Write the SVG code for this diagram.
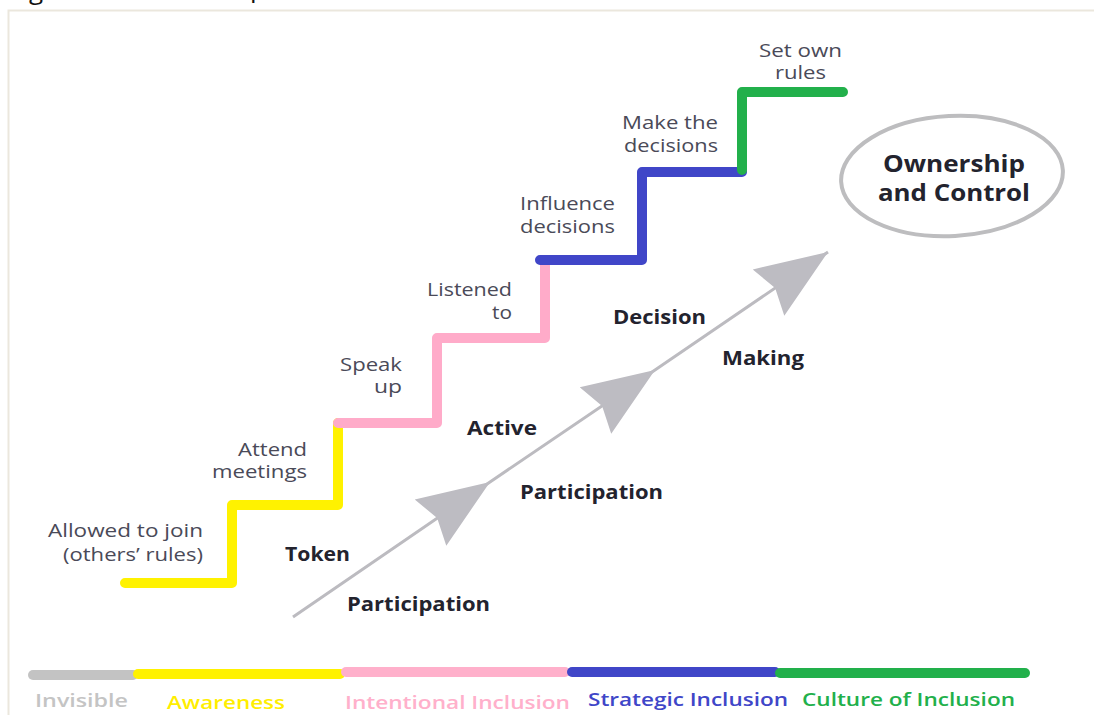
<svg xmlns="http://www.w3.org/2000/svg" width="1094" height="715" viewBox="0 0 1094 715">
<style>
.step{fill:none;stroke-width:10;stroke-linecap:round;stroke-linejoin:round}
.lbl{font-family:"Open Sans","DejaVu Sans",sans-serif;font-size:18px;fill:#4a4a58}
.bold{font-family:"Open Sans","DejaVu Sans",sans-serif;font-weight:700;font-size:20px;fill:#23232e}
.leg{font-family:"Open Sans","DejaVu Sans",sans-serif;font-weight:600;font-size:18px}
.bar{stroke-width:10;stroke-linecap:round}
</style>
<defs>
<marker id="ah" markerUnits="userSpaceOnUse" viewBox="-72 -30 74 60" markerWidth="74" markerHeight="60" refX="0" refY="0" orient="auto">
<path d="M0,0 L-72,-28 L-64,0 L-72,28 Z" fill="#bdbcc2"/>
</marker>
</defs>
<rect width="1094" height="715" fill="#ffffff"/>
<g id="frame">
<path d="M8.5,715 V10.5 H1094" fill="none" stroke="#ebe7dd" stroke-width="2"/>
<text x="29" y="-1" font-family="Open Sans, sans-serif" font-size="26" fill="#111">g</text>
<text x="250" y="-3" font-family="Open Sans, sans-serif" font-size="26" fill="#111">p</text>
</g>
<g id="connectors">
<path class="step" stroke="#fff200" d="M125,583 H232 V505 H338 V423"/>
<path class="step" stroke="#ffabc9" d="M338,423 H437 V338 H545 V262"/>
<path class="step" stroke="#4046c8" d="M540,260 H642 V172 H742"/>
<path class="step" stroke="#22b04b" d="M742,170 V92 H843"/>
<polyline points="293,617 490,482 655,370 828,252" fill="none" stroke="#bcbbc0" stroke-width="3" marker-mid="url(#ah)" marker-end="url(#ah)"/>
</g>
<g id="step-labels">
<text class="lbl"><tspan x="48" y="537" textLength="155" lengthAdjust="spacingAndGlyphs">Allowed to join</tspan><tspan x="63" y="561" textLength="140" lengthAdjust="spacingAndGlyphs">(others’ rules)</tspan></text>
<text class="lbl"><tspan x="238" y="456" textLength="69" lengthAdjust="spacingAndGlyphs">Attend</tspan><tspan x="212" y="478" textLength="95" lengthAdjust="spacingAndGlyphs">meetings</tspan></text>
<text class="lbl"><tspan x="340" y="371" textLength="62" lengthAdjust="spacingAndGlyphs">Speak</tspan><tspan x="374" y="393" textLength="28" lengthAdjust="spacingAndGlyphs">up</tspan></text>
<text class="lbl"><tspan x="427" y="296" textLength="85" lengthAdjust="spacingAndGlyphs">Listened</tspan><tspan x="492" y="319" textLength="20" lengthAdjust="spacingAndGlyphs">to</tspan></text>
<text class="lbl"><tspan x="520" y="210" textLength="95" lengthAdjust="spacingAndGlyphs">Influence</tspan><tspan x="520" y="233" textLength="95" lengthAdjust="spacingAndGlyphs">decisions</tspan></text>
<text class="lbl"><tspan x="622" y="129" textLength="96" lengthAdjust="spacingAndGlyphs">Make the</tspan><tspan x="624" y="152" textLength="94" lengthAdjust="spacingAndGlyphs">decisions</tspan></text>
<text class="lbl"><tspan x="759" y="57" textLength="83" lengthAdjust="spacingAndGlyphs">Set own</tspan><tspan x="775" y="79" textLength="51" lengthAdjust="spacingAndGlyphs">rules</tspan></text>
</g>
<g id="stage-labels">
<text class="bold" x="285" y="561" textLength="65" lengthAdjust="spacingAndGlyphs">Token</text>
<text class="bold" x="347" y="611" textLength="143" lengthAdjust="spacingAndGlyphs">Participation</text>
<text class="bold" x="467" y="435" textLength="70" lengthAdjust="spacingAndGlyphs">Active</text>
<text class="bold" x="520" y="499" textLength="143" lengthAdjust="spacingAndGlyphs">Participation</text>
<text class="bold" x="613" y="324" textLength="93" lengthAdjust="spacingAndGlyphs">Decision</text>
<text class="bold" x="722" y="365" textLength="82" lengthAdjust="spacingAndGlyphs">Making</text>
</g>
<g id="ownership">
<ellipse cx="952" cy="176" rx="111" ry="60" fill="none" stroke="#bdbdbf" stroke-width="4" transform="rotate(-3 952 176)"/>
<text class="bold"><tspan x="883" y="172" font-size="23" textLength="142" lengthAdjust="spacingAndGlyphs">Ownership</tspan><tspan x="878" y="201" font-size="23" textLength="152" lengthAdjust="spacingAndGlyphs">and Control</tspan></text>
</g>
<g id="legend">
<line class="bar" stroke="#c3c3c3" x1="33" y1="675" x2="133" y2="675"/>
<line class="bar" stroke="#fff200" x1="138" y1="674" x2="340" y2="674"/>
<line class="bar" stroke="#ffb0cb" x1="346" y1="672" x2="565" y2="672"/>
<line class="bar" stroke="#4046c8" x1="572" y1="672" x2="775" y2="672"/>
<line class="bar" stroke="#22b04b" x1="780" y1="673" x2="1025" y2="673"/>
<text class="leg" x="35" y="707" fill="#c4c4c4" textLength="93" lengthAdjust="spacingAndGlyphs">Invisible</text>
<text class="leg" x="167" y="709" fill="#ffee00" textLength="118" lengthAdjust="spacingAndGlyphs">Awareness</text>
<text class="leg" x="345" y="709" fill="#ffb0cb" font-weight="400" textLength="225" lengthAdjust="spacingAndGlyphs">Intentional Inclusion</text>
<text class="leg" x="588" y="706" fill="#4046c8" textLength="200" lengthAdjust="spacingAndGlyphs">Strategic Inclusion</text>
<text class="leg" x="802" y="706" fill="#22b04b" textLength="213" lengthAdjust="spacingAndGlyphs">Culture of Inclusion</text>
</g>
</svg>
